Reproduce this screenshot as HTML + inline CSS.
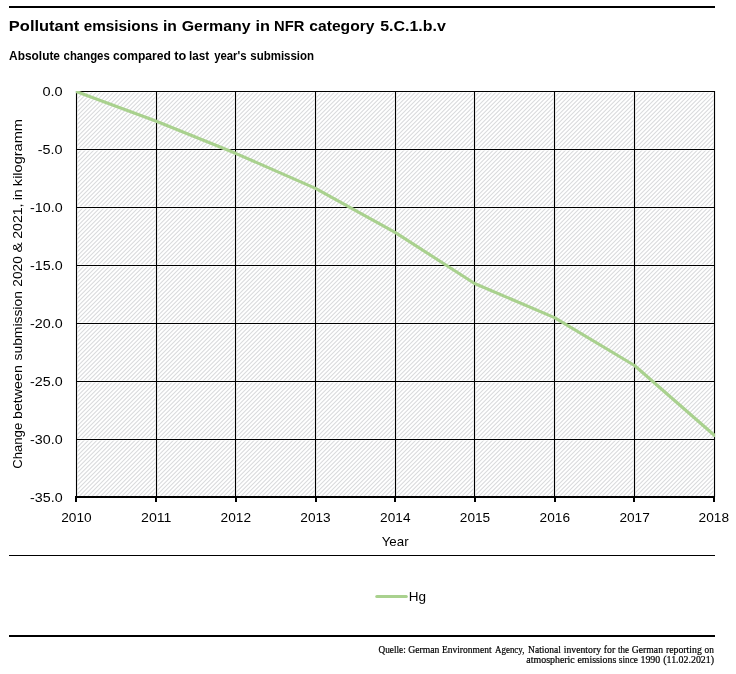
<!DOCTYPE html>
<html>
<head>
<meta charset="utf-8">
<title>Pollutant emsisions in Germany in NFR category 5.C.1.b.v</title>
<style>
html,body{margin:0;padding:0;background:#fff;}
body{width:736px;height:674px;overflow:hidden;font-family:"Liberation Sans",sans-serif;}
svg{display:block;}
text{font-family:"Liberation Sans",sans-serif;fill:#000;}
.serif text{font-family:"Liberation Serif",serif;}
</style>
</head>
<body>
<svg width="736" height="674" viewBox="0 0 736 674" style="will-change:transform">
<rect x="0" y="0" width="736" height="674" fill="#fff"/>
<!-- top rule -->
<rect x="9" y="6" width="706" height="2" fill="#000"/>
<!-- titles -->
<g font-size="14.8" font-weight="bold">
<text x="8.87" y="30.9" textLength="70.41" lengthAdjust="spacingAndGlyphs">Pollutant</text>
<text x="83.72" y="30.9" textLength="74.80" lengthAdjust="spacingAndGlyphs">emsisions</text>
<text x="163.02" y="30.9" textLength="13.94" lengthAdjust="spacingAndGlyphs">in</text>
<text x="181.70" y="30.9" textLength="69.00" lengthAdjust="spacingAndGlyphs">Germany</text>
<text x="255.48" y="30.9" textLength="14.51" lengthAdjust="spacingAndGlyphs">in</text>
<text x="274.08" y="30.9" textLength="30.30" lengthAdjust="spacingAndGlyphs">NFR</text>
<text x="309.31" y="30.9" textLength="65.19" lengthAdjust="spacingAndGlyphs">category</text>
<text x="380.25" y="30.9" textLength="65.55" lengthAdjust="spacingAndGlyphs">5.C.1.b.v</text>
</g>
<g font-size="12.4" font-weight="bold">
<text x="9.11" y="60" textLength="50.87" lengthAdjust="spacingAndGlyphs">Absolute</text>
<text x="63.59" y="60" textLength="46.22" lengthAdjust="spacingAndGlyphs">changes</text>
<text x="113.06" y="60" textLength="57.90" lengthAdjust="spacingAndGlyphs">compared</text>
<text x="174.15" y="60" textLength="12.04" lengthAdjust="spacingAndGlyphs">to</text>
<text x="189.00" y="60" textLength="20.12" lengthAdjust="spacingAndGlyphs">last</text>
<text x="214.15" y="60" textLength="32.40" lengthAdjust="spacingAndGlyphs">year's</text>
<text x="250.28" y="60" textLength="63.79" lengthAdjust="spacingAndGlyphs">submission</text>
</g>
<!-- plot area -->
<clipPath id="plotclip"><rect x="76" y="91" width="639" height="406"/></clipPath>
<g clip-path="url(#plotclip)"><path id="hatchlines" d="M74,89.25L74.25,89M74,93.5L78.5,89M74,97.75L82.75,89M74,102L87,89M74,106.25L91.25,89M74,110.5L95.5,89M74,114.75L99.75,89M74,119L104,89M74,123.25L108.25,89M74,127.5L112.5,89M74,131.75L116.75,89M74,136L121,89M74,140.25L125.25,89M74,144.5L129.5,89M74,148.75L133.75,89M74,153L138,89M74,157.25L142.25,89M74,161.5L146.5,89M74,165.75L150.75,89M74,170L155,89M74,174.25L159.25,89M74,178.5L163.5,89M74,182.75L167.75,89M74,187L172,89M74,191.25L176.25,89M74,195.5L180.5,89M74,199.75L184.75,89M74,204L189,89M74,208.25L193.25,89M74,212.5L197.5,89M74,216.75L201.75,89M74,221L206,89M74,225.25L210.25,89M74,229.5L214.5,89M74,233.75L218.75,89M74,238L223,89M74,242.25L227.25,89M74,246.5L231.5,89M74,250.75L235.75,89M74,255L240,89M74,259.25L244.25,89M74,263.5L248.5,89M74,267.75L252.75,89M74,272L257,89M74,276.25L261.25,89M74,280.5L265.5,89M74,284.75L269.75,89M74,289L274,89M74,293.25L278.25,89M74,297.5L282.5,89M74,301.75L286.75,89M74,306L291,89M74,310.25L295.25,89M74,314.5L299.5,89M74,318.75L303.75,89M74,323L308,89M74,327.25L312.25,89M74,331.5L316.5,89M74,335.75L320.75,89M74,340L325,89M74,344.25L329.25,89M74,348.5L333.5,89M74,352.75L337.75,89M74,357L342,89M74,361.25L346.25,89M74,365.5L350.5,89M74,369.75L354.75,89M74,374L359,89M74,378.25L363.25,89M74,382.5L367.5,89M74,386.75L371.75,89M74,391L376,89M74,395.25L380.25,89M74,399.5L384.5,89M74,403.75L388.75,89M74,408L393,89M74,412.25L397.25,89M74,416.5L401.5,89M74,420.75L405.75,89M74,425L410,89M74,429.25L414.25,89M74,433.5L418.5,89M74,437.75L422.75,89M74,442L427,89M74,446.25L431.25,89M74,450.5L435.5,89M74,454.75L439.75,89M74,459L444,89M74,463.25L448.25,89M74,467.5L452.5,89M74,471.75L456.75,89M74,476L461,89M74,480.25L465.25,89M74,484.5L469.5,89M74,488.75L473.75,89M74,493L478,89M74,497.25L482.25,89M76.5,499L486.5,89M80.75,499L490.75,89M85,499L495,89M89.25,499L499.25,89M93.5,499L503.5,89M97.75,499L507.75,89M102,499L512,89M106.25,499L516.25,89M110.5,499L520.5,89M114.75,499L524.75,89M119,499L529,89M123.25,499L533.25,89M127.5,499L537.5,89M131.75,499L541.75,89M136,499L546,89M140.25,499L550.25,89M144.5,499L554.5,89M148.75,499L558.75,89M153,499L563,89M157.25,499L567.25,89M161.5,499L571.5,89M165.75,499L575.75,89M170,499L580,89M174.25,499L584.25,89M178.5,499L588.5,89M182.75,499L592.75,89M187,499L597,89M191.25,499L601.25,89M195.5,499L605.5,89M199.75,499L609.75,89M204,499L614,89M208.25,499L618.25,89M212.5,499L622.5,89M216.75,499L626.75,89M221,499L631,89M225.25,499L635.25,89M229.5,499L639.5,89M233.75,499L643.75,89M238,499L648,89M242.25,499L652.25,89M246.5,499L656.5,89M250.75,499L660.75,89M255,499L665,89M259.25,499L669.25,89M263.5,499L673.5,89M267.75,499L677.75,89M272,499L682,89M276.25,499L686.25,89M280.5,499L690.5,89M284.75,499L694.75,89M289,499L699,89M293.25,499L703.25,89M297.5,499L707.5,89M301.75,499L711.75,89M306,499L716,89M310.25,499L717,92.25M314.5,499L717,96.5M318.75,499L717,100.75M323,499L717,105M327.25,499L717,109.25M331.5,499L717,113.5M335.75,499L717,117.75M340,499L717,122M344.25,499L717,126.25M348.5,499L717,130.5M352.75,499L717,134.75M357,499L717,139M361.25,499L717,143.25M365.5,499L717,147.5M369.75,499L717,151.75M374,499L717,156M378.25,499L717,160.25M382.5,499L717,164.5M386.75,499L717,168.75M391,499L717,173M395.25,499L717,177.25M399.5,499L717,181.5M403.75,499L717,185.75M408,499L717,190M412.25,499L717,194.25M416.5,499L717,198.5M420.75,499L717,202.75M425,499L717,207M429.25,499L717,211.25M433.5,499L717,215.5M437.75,499L717,219.75M442,499L717,224M446.25,499L717,228.25M450.5,499L717,232.5M454.75,499L717,236.75M459,499L717,241M463.25,499L717,245.25M467.5,499L717,249.5M471.75,499L717,253.75M476,499L717,258M480.25,499L717,262.25M484.5,499L717,266.5M488.75,499L717,270.75M493,499L717,275M497.25,499L717,279.25M501.5,499L717,283.5M505.75,499L717,287.75M510,499L717,292M514.25,499L717,296.25M518.5,499L717,300.5M522.75,499L717,304.75M527,499L717,309M531.25,499L717,313.25M535.5,499L717,317.5M539.75,499L717,321.75M544,499L717,326M548.25,499L717,330.25M552.5,499L717,334.5M556.75,499L717,338.75M561,499L717,343M565.25,499L717,347.25M569.5,499L717,351.5M573.75,499L717,355.75M578,499L717,360M582.25,499L717,364.25M586.5,499L717,368.5M590.75,499L717,372.75M595,499L717,377M599.25,499L717,381.25M603.5,499L717,385.5M607.75,499L717,389.75M612,499L717,394M616.25,499L717,398.25M620.5,499L717,402.5M624.75,499L717,406.75M629,499L717,411M633.25,499L717,415.25M637.5,499L717,419.5M641.75,499L717,423.75M646,499L717,428M650.25,499L717,432.25M654.5,499L717,436.5M658.75,499L717,440.75M663,499L717,445M667.25,499L717,449.25M671.5,499L717,453.5M675.75,499L717,457.75M680,499L717,462M684.25,499L717,466.25M688.5,499L717,470.5M692.75,499L717,474.75M697,499L717,479M701.25,499L717,483.25M705.5,499L717,487.5M709.75,499L717,491.75M714,499L717,496" stroke="#d9dadc" stroke-width="1.06" fill="none"/></g>
<g stroke="#fff" stroke-width="2.1">
<line x1="76" y1="91.5" x2="715" y2="91.5"/>
<line x1="76" y1="149.5" x2="715" y2="149.5"/>
<line x1="76" y1="207.5" x2="715" y2="207.5"/>
<line x1="76" y1="265.5" x2="715" y2="265.5"/>
<line x1="76" y1="323.5" x2="715" y2="323.5"/>
<line x1="76" y1="381.5" x2="715" y2="381.5"/>
<line x1="76" y1="439.5" x2="715" y2="439.5"/>
<line x1="76.5" y1="91" x2="76.5" y2="497"/>
<line x1="156.5" y1="91" x2="156.5" y2="497"/>
<line x1="235.5" y1="91" x2="235.5" y2="497"/>
<line x1="315.5" y1="91" x2="315.5" y2="497"/>
<line x1="395.5" y1="91" x2="395.5" y2="497"/>
<line x1="474.5" y1="91" x2="474.5" y2="497"/>
<line x1="554.5" y1="91" x2="554.5" y2="497"/>
<line x1="634.5" y1="91" x2="634.5" y2="497"/>
<line x1="714.5" y1="91" x2="714.5" y2="497"/>
</g>
<g stroke="#000" stroke-width="1" shape-rendering="crispEdges">
<line x1="76" y1="91.5" x2="715" y2="91.5"/>
<line x1="76" y1="149.5" x2="715" y2="149.5"/>
<line x1="76" y1="207.5" x2="715" y2="207.5"/>
<line x1="76" y1="265.5" x2="715" y2="265.5"/>
<line x1="76" y1="323.5" x2="715" y2="323.5"/>
<line x1="76" y1="381.5" x2="715" y2="381.5"/>
<line x1="76" y1="439.5" x2="715" y2="439.5"/>
</g>
<g fill="#000">
<rect x="75.95" y="91" width="1.12" height="406"/>
<rect x="155.95" y="91" width="1.12" height="406"/>
<rect x="234.95" y="91" width="1.12" height="406"/>
<rect x="314.95" y="91" width="1.12" height="406"/>
<rect x="394.95" y="91" width="1.12" height="406"/>
<rect x="473.95" y="91" width="1.12" height="406"/>
<rect x="553.95" y="91" width="1.12" height="406"/>
<rect x="633.95" y="91" width="1.12" height="406"/>
<rect x="713.95" y="91" width="1.12" height="406"/>
</g>
<!-- x axis -->
<g fill="#000" shape-rendering="crispEdges">
<rect x="76" y="496" width="639" height="2"/>
<rect x="75" y="496" width="2" height="6"/>
<rect x="155" y="496" width="2" height="6"/>
<rect x="235" y="496" width="2" height="6"/>
<rect x="315" y="496" width="2" height="6"/>
<rect x="394" y="496" width="2" height="6"/>
<rect x="474" y="496" width="2" height="6"/>
<rect x="554" y="496" width="2" height="6"/>
<rect x="633" y="496" width="2" height="6"/>
<rect x="713" y="496" width="2" height="6"/>
</g>
<!-- data line -->
<clipPath id="lineclip"><rect x="75.8" y="90.9" width="639.3" height="407"/></clipPath>
<polyline clip-path="url(#lineclip)" fill="none" stroke="#a9d18e" stroke-width="3.1" stroke-linejoin="round" stroke-linecap="round"
 points="76.2,91.5 156.4,121.2 235.6,153.3 315.5,188.3 395.5,232.6 474.6,283.55 554.5,317.6 634.5,365.5 714.6,435.5"/>
<!-- y labels -->
<g font-size="12.1" text-anchor="end">
<text x="62.6" y="96" textLength="20.2" lengthAdjust="spacingAndGlyphs">0.0</text>
<text x="62.6" y="154" textLength="24.8" lengthAdjust="spacingAndGlyphs">-5.0</text>
<text x="62.6" y="212" textLength="32.6" lengthAdjust="spacingAndGlyphs">-10.0</text>
<text x="62.6" y="270" textLength="32.6" lengthAdjust="spacingAndGlyphs">-15.0</text>
<text x="62.6" y="328" textLength="32.6" lengthAdjust="spacingAndGlyphs">-20.0</text>
<text x="62.6" y="386" textLength="32.6" lengthAdjust="spacingAndGlyphs">-25.0</text>
<text x="62.6" y="444" textLength="32.6" lengthAdjust="spacingAndGlyphs">-30.0</text>
<text x="62.6" y="502" textLength="32.6" lengthAdjust="spacingAndGlyphs">-35.0</text>
</g>
<!-- x labels -->
<g font-size="12.3" text-anchor="middle">
<text x="76.4" y="522" textLength="30.4" lengthAdjust="spacingAndGlyphs">2010</text>
<text x="156.3" y="522" textLength="30.4" lengthAdjust="spacingAndGlyphs">2011</text>
<text x="235.8" y="522" textLength="30.4" lengthAdjust="spacingAndGlyphs">2012</text>
<text x="315.5" y="522" textLength="30.4" lengthAdjust="spacingAndGlyphs">2013</text>
<text x="395.3" y="522" textLength="30.4" lengthAdjust="spacingAndGlyphs">2014</text>
<text x="475" y="522" textLength="30.4" lengthAdjust="spacingAndGlyphs">2015</text>
<text x="554.8" y="522" textLength="30.4" lengthAdjust="spacingAndGlyphs">2016</text>
<text x="634.6" y="522" textLength="30.4" lengthAdjust="spacingAndGlyphs">2017</text>
<text x="713.8" y="522" textLength="30.4" lengthAdjust="spacingAndGlyphs">2018</text>
</g>
<text x="395.15" y="545.8" font-size="12.4" text-anchor="middle" textLength="26.9" lengthAdjust="spacingAndGlyphs">Year</text>
<!-- y title -->
<g transform="translate(22,468.1) rotate(-90)" font-size="12.6">
<text x="-0.62" y="0" textLength="45.90" lengthAdjust="spacingAndGlyphs">Change</text>
<text x="49.15" y="0" textLength="53.76" lengthAdjust="spacingAndGlyphs">between</text>
<text x="107.61" y="0" textLength="69.37" lengthAdjust="spacingAndGlyphs">submission</text>
<text x="181.35" y="0" textLength="30.55" lengthAdjust="spacingAndGlyphs">2020</text>
<text x="215.51" y="0" textLength="10.28" lengthAdjust="spacingAndGlyphs">&amp;</text>
<text x="229.38" y="0" textLength="35.25" lengthAdjust="spacingAndGlyphs">2021,</text>
<text x="267.74" y="0" textLength="11.18" lengthAdjust="spacingAndGlyphs">in</text>
<text x="281.98" y="0" textLength="67.04" lengthAdjust="spacingAndGlyphs">kilogramm</text>
</g>
<!-- rule -->
<rect x="9" y="555" width="706" height="1" fill="#000"/>
<!-- legend -->
<line x1="376.8" y1="596.5" x2="406.3" y2="596.5" stroke="#a9d18e" stroke-width="3.1" stroke-linecap="round"/>
<text x="408.8" y="600.8" font-size="12.3" textLength="17.3" lengthAdjust="spacingAndGlyphs">Hg</text>
<!-- bottom rule -->
<rect x="9" y="635" width="706" height="2" fill="#000"/>
<!-- footer -->
<g class="serif" font-size="10.6" stroke="#000" stroke-width="0.22">
<text x="378.55" y="652.9" textLength="27.18" lengthAdjust="spacingAndGlyphs">Quelle:</text>
<text x="408.24" y="652.9" textLength="31.10" lengthAdjust="spacingAndGlyphs">German</text>
<text x="441.93" y="652.9" textLength="49.61" lengthAdjust="spacingAndGlyphs">Environment</text>
<text x="495.02" y="652.9" textLength="29.43" lengthAdjust="spacingAndGlyphs">Agency,</text>
<text x="528.08" y="652.9" textLength="32.69" lengthAdjust="spacingAndGlyphs">National</text>
<text x="563.72" y="652.9" textLength="37.28" lengthAdjust="spacingAndGlyphs">inventory</text>
<text x="603.87" y="652.9" textLength="11.40" lengthAdjust="spacingAndGlyphs">for</text>
<text x="617.92" y="652.9" textLength="10.99" lengthAdjust="spacingAndGlyphs">the</text>
<text x="631.84" y="652.9" textLength="31.15" lengthAdjust="spacingAndGlyphs">German</text>
<text x="665.92" y="652.9" textLength="35.92" lengthAdjust="spacingAndGlyphs">reporting</text>
<text x="704.55" y="652.9" textLength="9.28" lengthAdjust="spacingAndGlyphs">on</text>
<text x="526.37" y="662.8" textLength="48.41" lengthAdjust="spacingAndGlyphs">atmospheric</text>
<text x="577.38" y="662.8" textLength="38.87" lengthAdjust="spacingAndGlyphs">emissions</text>
<text x="618.80" y="662.8" textLength="19.11" lengthAdjust="spacingAndGlyphs">since</text>
<text x="640.46" y="662.8" textLength="19.82" lengthAdjust="spacingAndGlyphs">1990</text>
<text x="663.28" y="662.8" textLength="50.82" lengthAdjust="spacingAndGlyphs">(11.02.2021)</text>
</g>
</svg>
</body>
</html>
